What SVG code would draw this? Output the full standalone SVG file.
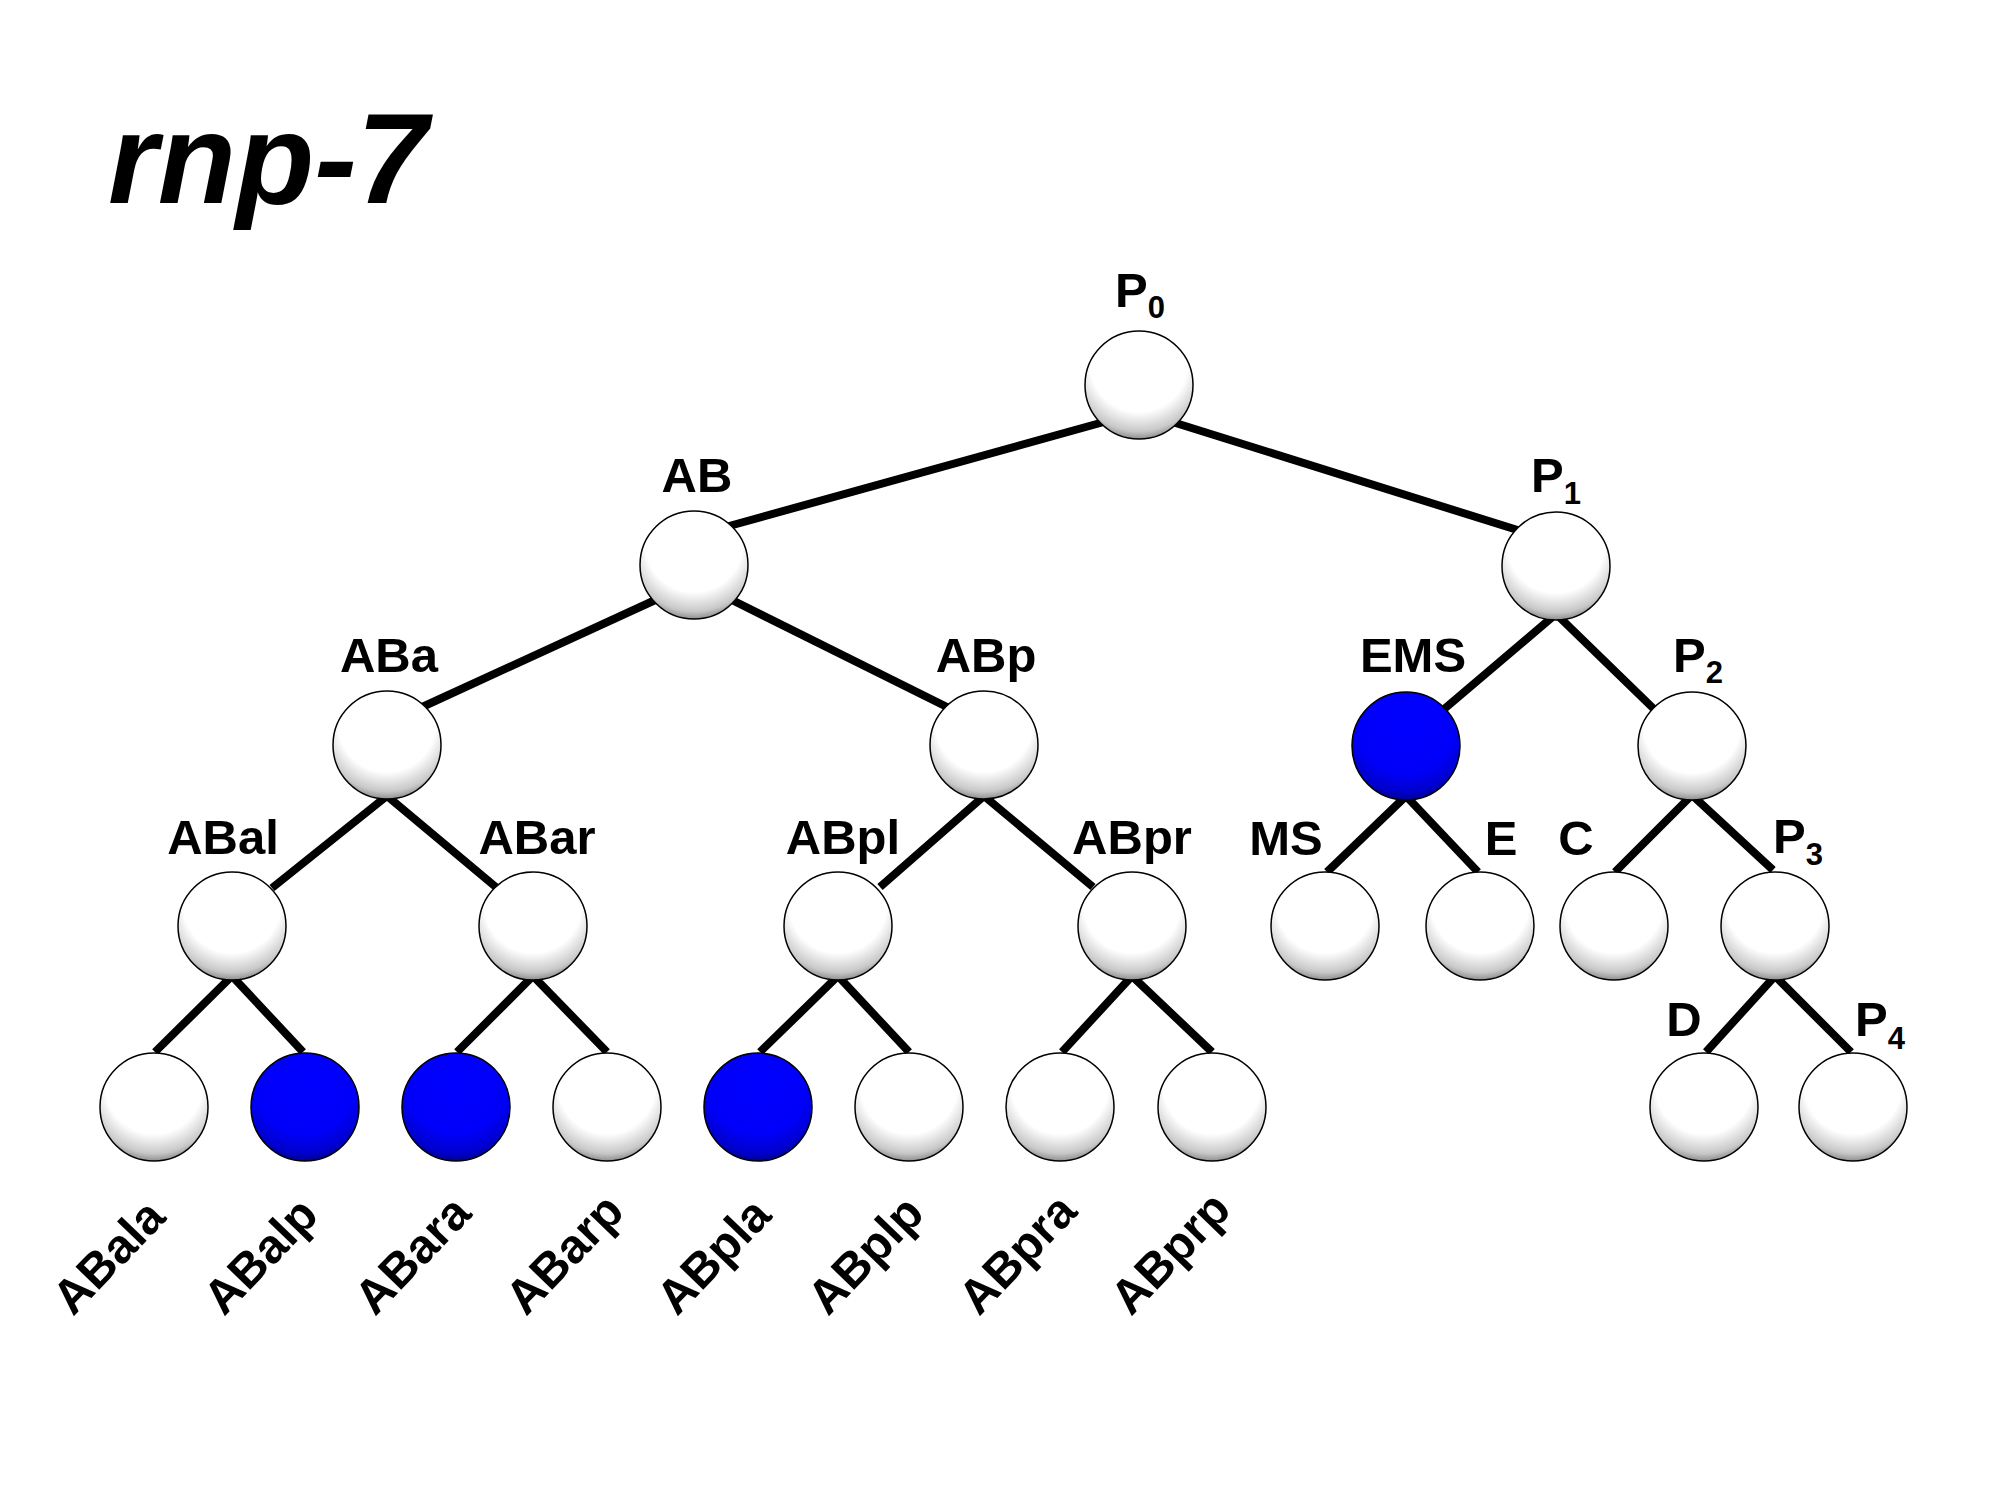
<svg xmlns="http://www.w3.org/2000/svg" width="1990" height="1493" viewBox="0 0 1990 1493">
<style>
.lbl{font-family:"Liberation Sans",Arial,sans-serif;font-weight:bold;font-size:49px;fill:#000}
.mid{text-anchor:middle}
.sub{font-size:31px}
.rot{font-family:"Liberation Sans",Arial,sans-serif;font-weight:bold;font-size:48px;fill:#000}
.title{font-family:"Liberation Sans",Arial,sans-serif;font-weight:bold;font-style:italic;font-size:128px;fill:#000}
.w{fill:url(#gw);stroke:#000;stroke-width:1.5}
.b{fill:url(#gb);stroke:#000;stroke-width:1.5}
.edge{fill:none;stroke:#000;stroke-width:8;stroke-linejoin:miter;stroke-miterlimit:10}
</style>
<defs>
<radialGradient id="gw" cx="0.5" cy="0.3" r="0.75" fx="0.5" fy="0.3">
<stop offset="0" stop-color="#ffffff"/>
<stop offset="0.6" stop-color="#ffffff"/>
<stop offset="0.84" stop-color="#c8c8c8"/>
<stop offset="1" stop-color="#666666"/>
</radialGradient>
<radialGradient id="gb" cx="0.5" cy="0.3" r="0.75" fx="0.5" fy="0.3">
<stop offset="0" stop-color="#0000ff"/>
<stop offset="0.6" stop-color="#0000fa"/>
<stop offset="0.84" stop-color="#0000cc"/>
<stop offset="1" stop-color="#000066"/>
</radialGradient>
</defs>
<rect width="1990" height="1493" fill="#fff"/>
<text class="title" x="108" y="203">rnp-7</text>
<g id="connectors">
<path class="edge" d="M1111,420 L722,528"/>
<path class="edge" d="M1166,420 L1527,533"/>
<path class="edge" d="M664,596 L420,708"/>
<path class="edge" d="M724,596 L951,709"/>
<path class="edge" d="M1443,710 L1556,614 L1655,710"/>
<path class="edge" d="M272,888 L387,796 L497,888"/>
<path class="edge" d="M880,887 L984,796 L1093,887"/>
<path class="edge" d="M1327,872 L1406,796 L1478,872"/>
<path class="edge" d="M1615,872 L1692,795 L1773,870"/>
<path class="edge" d="M155,1052 L232,976 L303,1052"/>
<path class="edge" d="M457,1052 L533,976 L607,1052"/>
<path class="edge" d="M760,1052 L838,976 L909,1052"/>
<path class="edge" d="M1062,1052 L1132,976 L1212,1052"/>
<path class="edge" d="M1706,1052 L1775,976 L1851,1052"/>
</g>
<g id="P0"><circle class="w" cx="1139" cy="385" r="54"/><text class="lbl" x="1115" y="307">P<tspan class="sub" dy="11">0</tspan></text></g>
<g id="AB"><circle class="w" cx="694" cy="565" r="54"/><text class="lbl mid" x="697" y="492">AB</text></g>
<g id="P1"><circle class="w" cx="1556" cy="566" r="54"/><text class="lbl" x="1531" y="492">P<tspan class="sub" dy="12">1</tspan></text></g>
<g id="ABa"><circle class="w" cx="387" cy="745" r="54"/><text class="lbl mid" x="389" y="672">ABa</text></g>
<g id="ABp"><circle class="w" cx="984" cy="745" r="54"/><text class="lbl mid" x="986" y="672">ABp</text></g>
<g id="EMS"><circle class="b" cx="1406" cy="746" r="54"/><text class="lbl mid" x="1413" y="672">EMS</text></g>
<g id="P2"><circle class="w" cx="1692" cy="746" r="54"/><text class="lbl" x="1673" y="672">P<tspan class="sub" dy="11">2</tspan></text></g>
<g id="ABal"><circle class="w" cx="232" cy="926" r="54"/><text class="lbl mid" x="223" y="854">ABal</text></g>
<g id="ABar"><circle class="w" cx="533" cy="926" r="54"/><text class="lbl mid" x="537" y="854">ABar</text></g>
<g id="ABpl"><circle class="w" cx="838" cy="926" r="54"/><text class="lbl mid" x="843" y="854">ABpl</text></g>
<g id="ABpr"><circle class="w" cx="1132" cy="926" r="54"/><text class="lbl mid" x="1132" y="854">ABpr</text></g>
<g id="MS"><circle class="w" cx="1325" cy="926" r="54"/><text class="lbl mid" x="1286" y="855">MS</text></g>
<g id="E"><circle class="w" cx="1480" cy="926" r="54"/><text class="lbl mid" x="1501" y="855">E</text></g>
<g id="C"><circle class="w" cx="1614" cy="926" r="54"/><text class="lbl mid" x="1576" y="855">C</text></g>
<g id="P3"><circle class="w" cx="1775" cy="926" r="54"/><text class="lbl" x="1773" y="853">P<tspan class="sub" dy="12">3</tspan></text></g>
<g id="ABala"><circle class="w" cx="154" cy="1107" r="54"/><text class="rot" transform="translate(73,1317) rotate(-46)">ABala</text></g>
<g id="ABalp"><circle class="b" cx="305" cy="1107" r="54"/><text class="rot" transform="translate(224,1317) rotate(-46)">ABalp</text></g>
<g id="ABara"><circle class="b" cx="456" cy="1107" r="54"/><text class="rot" transform="translate(375,1317) rotate(-46)">ABara</text></g>
<g id="ABarp"><circle class="w" cx="607" cy="1107" r="54"/><text class="rot" transform="translate(526,1317) rotate(-46)">ABarp</text></g>
<g id="ABpla"><circle class="b" cx="758" cy="1107" r="54"/><text class="rot" transform="translate(677,1317) rotate(-46)">ABpla</text></g>
<g id="ABplp"><circle class="w" cx="909" cy="1107" r="54"/><text class="rot" transform="translate(828,1317) rotate(-46)">ABplp</text></g>
<g id="ABpra"><circle class="w" cx="1060" cy="1107" r="54"/><text class="rot" transform="translate(979,1317) rotate(-46)">ABpra</text></g>
<g id="ABprp"><circle class="w" cx="1212" cy="1107" r="54"/><text class="rot" transform="translate(1131,1317) rotate(-46)">ABprp</text></g>
<g id="D"><circle class="w" cx="1704" cy="1107" r="54"/><text class="lbl mid" x="1684" y="1036">D</text></g>
<g id="P4"><circle class="w" cx="1853" cy="1107" r="54"/><text class="lbl" x="1855" y="1036">P<tspan class="sub" dy="13">4</tspan></text></g>
</svg>
